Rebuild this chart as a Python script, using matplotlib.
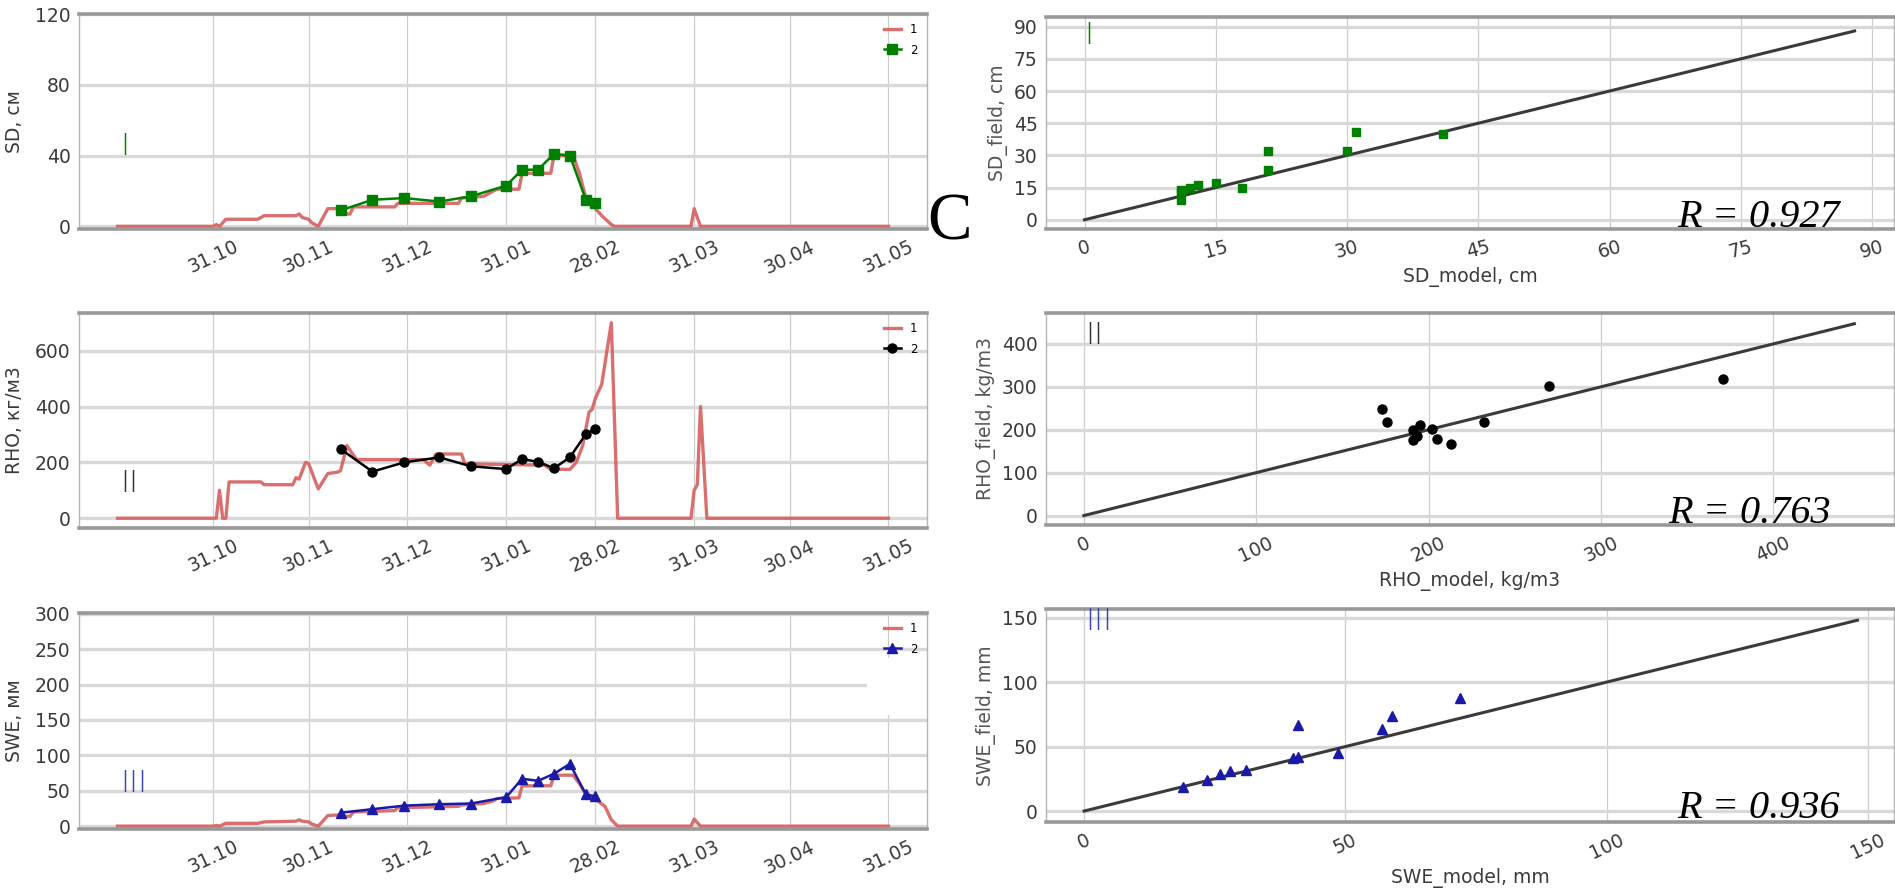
import matplotlib
matplotlib.use('Agg')
import numpy as np
import pandas as pd
import matplotlib.pyplot as plt
from matplotlib.patches import Rectangle
from matplotlib.transforms import blended_transform_factory

# ---- season axis ----
tick_dates = ['2018-10-31', '2018-11-30', '2018-12-31', '2019-01-31',
              '2019-02-28', '2019-03-31', '2019-04-30', '2019-05-31']
tick_labels = ['31.10', '30.11', '31.12', '31.01', '28.02', '31.03', '30.04', '31.05']

# ---- model (1), breakpoints of the daily run ----
sd_model_dates = ['2018-10-01', '2018-10-31', '2018-11-01', '2018-11-02', '2018-11-04', '2018-11-14',
                  '2018-11-16', '2018-11-26', '2018-11-27', '2018-11-28', '2018-11-30', '2018-12-01',
                  '2018-12-03', '2018-12-06', '2018-12-10', '2018-12-11', '2018-12-13', '2018-12-14',
                  '2018-12-27', '2018-12-28', '2019-01-16', '2019-01-17', '2019-01-24', '2019-01-27',
                  '2019-01-28', '2019-02-04', '2019-02-05', '2019-02-14', '2019-02-15', '2019-02-21',
                  '2019-02-23', '2019-02-25', '2019-02-27', '2019-02-28', '2019-03-02', '2019-03-05',
                  '2019-03-06', '2019-03-30', '2019-03-31', '2019-04-02', '2019-05-31']
sd_model = [0, 0, 1, 0, 4, 4,
            6, 6, 7, 5, 4, 2,
            0, 10, 10, 7, 7, 11,
            11, 13, 13, 16, 17, 20,
            21, 21, 30, 30, 40, 40,
            30, 16, 12, 10, 6, 1,
            0, 0, 10, 0, 0]

swe_model_dates = ['2018-10-01', '2018-10-31', '2018-11-01', '2018-11-02', '2018-11-04', '2018-11-14',
                   '2018-11-16', '2018-11-26', '2018-11-27', '2018-11-28', '2018-11-30', '2018-12-01',
                   '2018-12-03', '2018-12-06', '2018-12-10', '2018-12-11', '2018-12-13', '2018-12-14',
                   '2018-12-27', '2018-12-28', '2019-01-16', '2019-01-17', '2019-01-24', '2019-01-27',
                   '2019-01-28', '2019-02-04', '2019-02-05', '2019-02-14', '2019-02-15', '2019-02-21',
                   '2019-02-23', '2019-02-25', '2019-02-28', '2019-03-03', '2019-03-05', '2019-03-07',
                   '2019-03-30', '2019-03-31', '2019-04-02', '2019-05-31']
swe_model = [0, 0, 1, 0, 4, 4,
             6, 7, 9, 7, 6, 3,
             0, 15, 16, 14, 14, 20,
             22, 26, 28, 30, 32, 36,
             39, 40, 57, 57, 72, 72,
             60, 45, 38, 28, 9, 0,
             0, 10, 0, 0]

rho_model_dates = ['2018-10-01', '2018-11-01', '2018-11-02', '2018-11-03', '2018-11-04', '2018-11-05',
                   '2018-11-15', '2018-11-16', '2018-11-25', '2018-11-26', '2018-11-27', '2018-11-29',
                   '2018-11-30', '2018-12-03', '2018-12-06', '2018-12-09', '2018-12-10', '2018-12-12',
                   '2018-12-15', '2019-01-05', '2019-01-07', '2019-01-09', '2019-01-17', '2019-01-18',
                   '2019-02-12', '2019-02-14', '2019-02-20', '2019-02-22', '2019-02-24', '2019-02-26',
                   '2019-02-27', '2019-02-28', '2019-03-02', '2019-03-05', '2019-03-07', '2019-03-30',
                   '2019-03-31', '2019-04-01', '2019-04-02', '2019-04-04', '2019-05-31']
rho_model = [0, 0, 100, 0, 0, 130,
             130, 120, 120, 145, 140, 200,
             195, 105, 160, 165, 170, 260,
             210, 210, 190, 230, 230, 195,
             190, 175, 175, 200, 260, 380,
             390, 430, 480, 700, 0, 0,
             100, 120, 400, 0, 0]

# ---- field survey (2) ----
obs_dates = ['2018-12-10', '2018-12-20', '2018-12-30', '2019-01-10', '2019-01-20', '2019-01-31',
             '2019-02-05', '2019-02-10', '2019-02-15', '2019-02-20', '2019-02-25', '2019-02-28']
sd_field = [9, 15, 16, 14, 17, 23, 32, 32, 41, 40, 15, 13]
rho_field = [248, 167, 200, 218, 186, 176, 212, 202, 179, 218, 301, 319]
swe_field = [19, 24, 29, 31, 32, 41, 67, 64, 74, 88, 45, 42]

# model values on the survey days
sd_model_obs = [11, 12, 13, 11, 15, 21, 21, 30, 31, 41, 18, 11]
rho_model_obs = [173, 213, 191, 176, 193, 191, 195, 202, 205, 232, 270, 371]
swe_model_obs = [19, 23.5, 26, 28, 31, 40, 41, 57, 59, 72, 48.5, 41]

# 1:1 lines
sd_line = [0, 88]
rho_line = [0, 447]
swe_line = [0, 148]
r_values = [0.927, 0.763, 0.936]

W, H = 1895, 889
RED = '#d65f5f'


def px_axes(fig, x0, y0, x1, y1):
    return fig.add_axes([x0 / W, 1 - y1 / H, (x1 - x0) / W, (y1 - y0) / H])


def style_axes(ax):
    ax.set_facecolor('white')
    ax.grid(axis='y', color='#d9d9d9', lw=2.4)
    ax.grid(axis='x', color='#cdcdcd', lw=0.9)
    ax.set_axisbelow(True)
    for side in ['top', 'bottom']:
        ax.spines[side].set_color('#999999')
        ax.spines[side].set_linewidth(2.6)
    for side in ['left', 'right']:
        ax.spines[side].set_color('#b5b5b5')
        ax.spines[side].set_linewidth(1.0)
    ax.tick_params(length=0, labelsize=13.5, labelcolor='#3a3a3a', pad=6)


def series_panel(ax, mdates_, mvals, fvals, color, marker, ylabel, ylim, yticks,
                 roman, roman_y, roman_color):
    style_axes(ax)
    ax.plot(pd.to_datetime(mdates_).values, mvals, color=RED, lw=2.4, alpha=0.9, label='1')
    ax.plot(pd.to_datetime(obs_dates).values, fvals, color=color, marker=marker,
            ms=6.5, lw=1.8, label='2')
    ax.set_ylim(*ylim)
    ax.set_yticks(yticks)
    ax.set_xticks(pd.to_datetime(tick_dates).values)
    ax.set_xticklabels(tick_labels, rotation=25)
    ax.set_ylabel(ylabel, fontsize=13.5, color='#3a3a3a', labelpad=8)
    ax.text(pd.Timestamp('2018-10-02'), roman_y, roman, color=roman_color, fontsize=22,
            ha='left', va='center', fontweight='light')
    ax.legend(loc='upper right', frameon=False, fontsize=8.5, handlelength=1.4,
              borderaxespad=0.4, labelspacing=0.6)


def scatter_panel(ax, xm, yf, line, color, marker, ms, xlabel, ylabel, xlim, ylim, ticks,
                  rot, roman, roman_xy, roman_color, r, r_xy):
    style_axes(ax)
    ax.plot(line, line, color='#3a3a3a', lw=2.2, zorder=2)
    ax.plot(xm, yf, ls='none', marker=marker, color=color, ms=ms, zorder=3)
    ax.set_xlim(*xlim)
    ax.set_ylim(*ylim)
    ax.set_xticks(ticks)
    ax.set_yticks(ticks)
    plt.setp(ax.get_xticklabels(), rotation=rot)
    ax.set_xlabel(xlabel, fontsize=13.5, color='#3a3a3a', labelpad=4)
    ax.set_ylabel(ylabel, fontsize=13.5, color='#555555', labelpad=4)
    ax.text(roman_xy[0], roman_xy[1], roman, color=roman_color, fontsize=22,
            ha='left', va='center', fontweight='light')
    ax.text(r_xy[0], r_xy[1], 'R = %.3f' % r, transform=ax.transAxes, ha='right', va='baseline',
            fontsize=29, style='italic', family='Liberation Serif', color='black')


fig = plt.figure(figsize=(W / 100, H / 100), dpi=100)

# left column: seasonal curves
ax1 = px_axes(fig, 79, 14, 927, 229)
series_panel(ax1, sd_model_dates, sd_model, sd_field, 'green', 's', 'SD, см',
             (-1.5, 120), [0, 40, 80, 120], 'I', 45, 'green')

ax2 = px_axes(fig, 79, 313, 927, 528)
series_panel(ax2, rho_model_dates, rho_model, rho_field, 'black', 'o', 'RHO, кг/м3',
             (-35, 735), [0, 200, 400, 600], 'II', 125, '#333333')

ax3 = px_axes(fig, 79, 613, 927, 829)
series_panel(ax3, swe_model_dates, swe_model, swe_field, '#1a1aa8', '^', 'SWE, мм',
             (-4, 301), [0, 50, 100, 150, 200, 250, 300], 'III', 60, '#3a44b0')
# blank patch near the legend
trans = blended_transform_factory(ax3.transAxes, ax3.transData)
ax3.add_patch(Rectangle((0.929, 157), 0.071, 81, transform=trans, facecolor='white',
                        edgecolor='none', zorder=1.5))

# right column: model vs field
ax4 = px_axes(fig, 1046, 17, 1894, 229)
scatter_panel(ax4, sd_model_obs, sd_field, sd_line, 'green', 's', 6,
              'SD_model, cm', 'SD_field, cm', (-4.4, 92.5), (-4.3, 94.5),
              [0, 15, 30, 45, 60, 75, 90], 15, 'I', (0.0, 86), 'green',
              r_values[0], (0.936, 0.01))

ax5 = px_axes(fig, 1046, 313, 1894, 525)
scatter_panel(ax5, rho_model_obs, rho_field, rho_line, 'black', 'o', 6.5,
              'RHO_model, kg/m3', 'RHO_field, kg/m3', (-22, 470), (-22, 472),
              [0, 100, 200, 300, 400], 25, 'II', (0.5, 419), '#333333',
              r_values[1], (0.926, 0.008))

ax6 = px_axes(fig, 1046, 609, 1894, 822)
scatter_panel(ax6, swe_model_obs, swe_field, swe_line, '#1a1aa8', '^', 6.5,
              'SWE_model, mm', 'SWE_field, mm', (-7.3, 155), (-8.5, 156.7),
              [0, 50, 100, 150], 25, 'III', (0.3, 147), '#3a44b0',
              r_values[2], (0.936, 0.02))

fig.text(949 / W, 1 - 223 / H, 'C', fontsize=48, family='Liberation Serif',
         ha='center', va='center', color='black')

fig.savefig('out.png', dpi=100, facecolor='white')
